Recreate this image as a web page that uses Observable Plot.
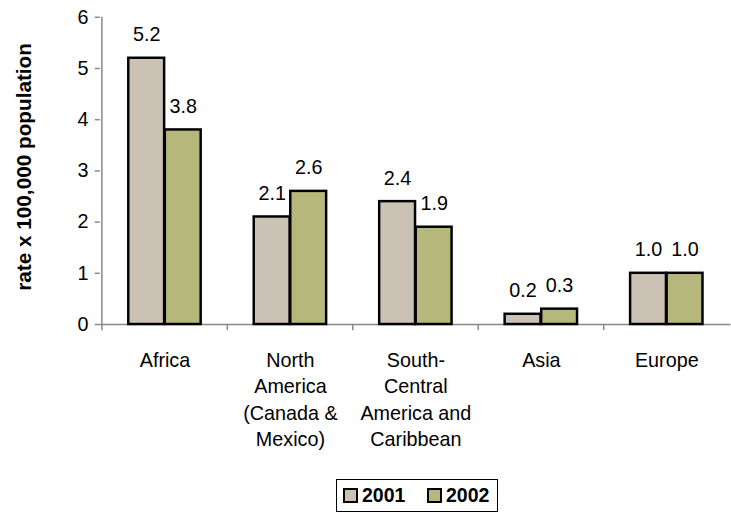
<!DOCTYPE html>
<html><head><meta charset="utf-8">
<script src="https://cdn.jsdelivr.net/npm/d3@7"></script>
<script src="https://cdn.jsdelivr.net/npm/@observablehq/plot@0.6"></script>
<style>
html,body{margin:0;padding:0;background:#fff;overflow:hidden;}
body{width:731px;height:514px;position:relative;font-family:"Liberation Sans",Arial,sans-serif;}
#chart{position:absolute;left:0;top:0;}
#legend{position:absolute;left:336px;top:479px;width:162px;height:33px;border:1px solid #000;box-sizing:border-box;
  font-weight:bold;font-size:19.5px;color:#000;}
.item{position:absolute;top:0;height:31px;display:flex;align-items:center;}
.sw{display:inline-block;width:15px;height:15px;box-sizing:border-box;border:2px solid #000;margin-right:4px;}
</style></head>
<body>
<div id="chart"></div>
<div id="legend"></div>
<script>
const regions = ["Africa", "North\nAmerica\n(Canada &\nMexico)", "South-\nCentral\nAmerica and\nCaribbean", "Asia", "Europe"];
const years = ["2001", "2002"];
const rates2001 = [5.2, 2.1, 2.4, 0.2, 1.0];
const rates2002 = [3.8, 2.6, 1.9, 0.3, 1.0];
const yTicks = [0, 1, 2, 3, 4, 5, 6];
const colors = ["#cbc1b5", "#b6b87b"];
const yLabel = "rate x 100,000 population";

const rows = regions.flatMap((r, i) => [
  {region: r, year: years[0], value: rates2001[i]},
  {region: r, year: years[1], value: rates2002[i]}
]);
const d2001 = rows.filter(d => d.year === years[0]);
const d2002 = rows.filter(d => d.year === years[1]);

const W = 740, H = 470, mL = 101, mR = 0.5, mT = 17, mB = 142;
const bw = (W - mL - mR) / regions.length;   // band width
const barW = 37, outer = (bw - 2 * barW) / 2;
const grey = "#888";
const fs = 20;

const chart = Plot.plot({
  width: W, height: H,
  marginLeft: mL, marginRight: mR, marginTop: mT, marginBottom: mB,
  style: {fontFamily: '"Liberation Sans", Arial, sans-serif', fontSize: fs + "px", color: "#000", background: "#fff", overflow: "visible"},
  x: {domain: regions, padding: 0, label: null},
  y: {domain: [0, 6], label: null},
  marks: [
    Plot.ruleY([0], {stroke: grey, strokeWidth: 1.5}),
    Plot.ruleX([regions[0]], {dx: -bw / 2, y1: 0, y2: 6, stroke: grey, strokeWidth: 1.5}),
    Plot.ruleX(regions, {x: d => d, dx: -bw / 2, y1: 0, y2: -0.12, stroke: grey, strokeWidth: 1.5}),
    Plot.axisY({ticks: yTicks, tickFormat: d => String(d), tickSize: 5, tickPadding: 7, stroke: grey, fill: "#000", fontSize: fs, label: null, strokeWidth: 1.5}),
    Plot.axisX({tickSize: 0, tickPadding: 24, fontSize: fs, lineHeight: 1.34, fill: "#000", label: null}),
    Plot.barY(d2001, {x: "region", y: "value", fill: colors[0], stroke: "#000", strokeWidth: 2.5,
      insetLeft: outer, insetRight: outer + barW}),
    Plot.barY(d2002, {x: "region", y: "value", fill: colors[1], stroke: "#000", strokeWidth: 2.5,
      insetLeft: outer + barW, insetRight: outer}),
    Plot.text(d2001, {x: "region", y: "value", text: d => d.value.toFixed(1), dx: -barW / 2, dy: -23.5, fontSize: fs, fill: "#000"}),
    Plot.text(d2002, {x: "region", y: "value", text: d => d.value.toFixed(1), dx: barW / 2, dy: -23.5, fontSize: fs, fill: "#000"}),
    Plot.text([yLabel], {frameAnchor: "left", textAnchor: "middle", text: d => d, rotate: -90, dx: -77, dy: -4, fontSize: 21, fontWeight: "bold", fill: "#000"})
  ]
});
document.getElementById("chart").appendChild(chart);

const legend = document.getElementById("legend");
const lefts = [6, 90];
years.forEach((y, i) => {
  const it = document.createElement("div");
  it.className = "item";
  it.style.left = lefts[i] + "px";
  const sw = document.createElement("span");
  sw.className = "sw";
  sw.style.background = colors[i];
  it.appendChild(sw);
  it.appendChild(document.createTextNode(y));
  legend.appendChild(it);
});
</script>
</body></html>
